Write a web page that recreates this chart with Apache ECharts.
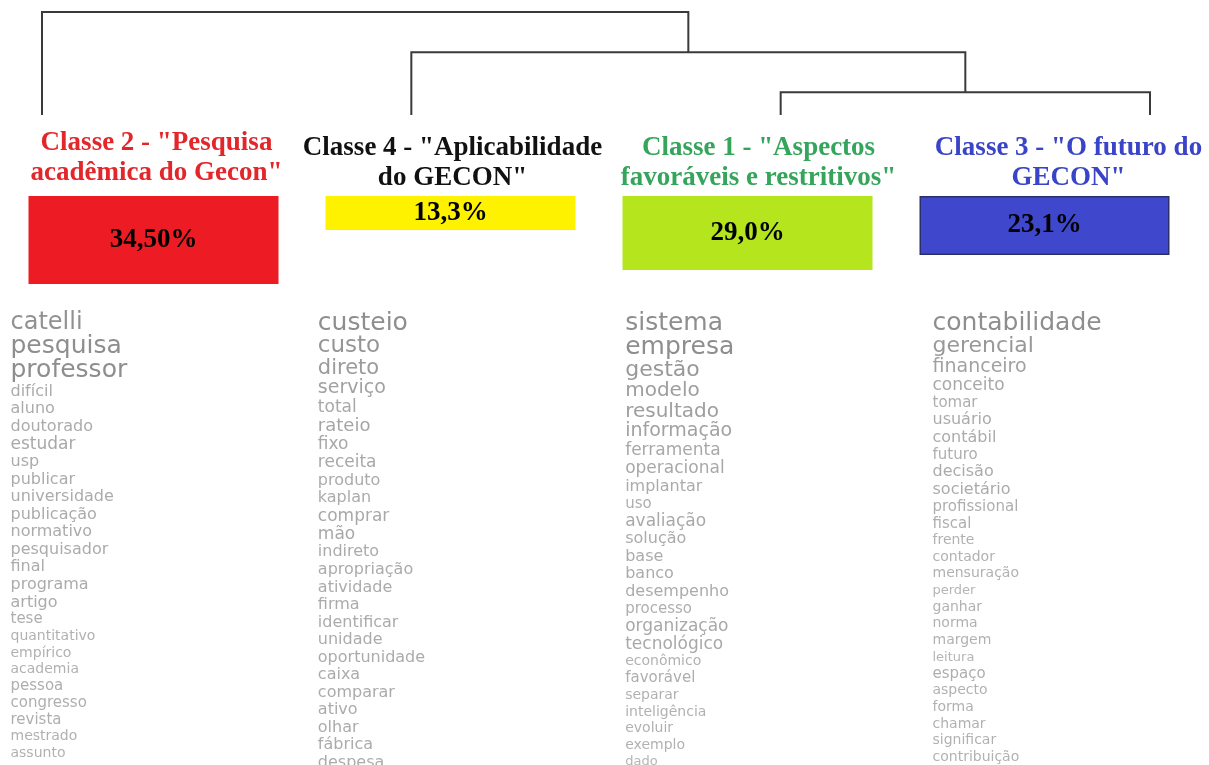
<!DOCTYPE html>
<html>
<head>
<meta charset="utf-8">
<title>Classes GECON</title>
<script src="https://cdn.jsdelivr.net/npm/echarts@6/dist/echarts.min.js"></script>
<style>
    html, body { margin: 0; padding: 0; background: #fff; }
    #chart { width: 1209px; height: 765px; }
</style>
</head>
<body>
<div id="chart"></div>
<script>
// classes in the order of the dendrogram leaves
const classNames = ['Classe 2', 'Classe 4', 'Classe 1', 'Classe 3'];
const classTitles = [
    ['Classe 2 - "Pesquisa', 'acadêmica do Gecon"'],
    ['Classe 4 - "Aplicabilidade', 'do GECON"'],
    ['Classe 1 - "Aspectos', 'favoráveis e restritivos"'],
    ['Classe 3 - "O futuro do', 'GECON"']
];
const classShares = [34.5, 13.3, 29.0, 23.1];
const shareLabels = ['34,50%', '13,3%', '29,0%', '23,1%'];

// linkage rows: [left, right, height], ids >= 4 are merged clusters
const linkage = [[2, 3, 0.22], [1, 4, 0.61], [0, 5, 1.0]];

// words of each class and their weight (rank of association)
const wordsClasse2 = ['catelli', 'pesquisa', 'professor', 'difícil', 'aluno', 'doutorado', 'estudar', 'usp',
    'publicar', 'universidade', 'publicação', 'normativo', 'pesquisador', 'final', 'programa', 'artigo',
    'tese', 'quantitativo', 'empírico', 'academia', 'pessoa', 'congresso', 'revista', 'mestrado', 'assunto'];
const weightsClasse2 = [11, 12, 12, 3, 3, 3, 4, 3, 3, 3, 3, 3, 3, 3, 3, 3, 2, 1, 1, 1, 2, 2, 2, 1, 1];

const wordsClasse4 = ['custeio', 'custo', 'direto', 'serviço', 'total', 'rateio', 'fixo', 'receita',
    'produto', 'kaplan', 'comprar', 'mão', 'indireto', 'apropriação', 'atividade', 'firma', 'identificar',
    'unidade', 'oportunidade', 'caixa', 'comparar', 'ativo', 'olhar', 'fábrica', 'despesa'];
const weightsClasse4 = [12, 10, 8, 6, 4, 5, 4, 4, 3, 3, 4, 4, 3, 3, 3, 3, 3, 3, 3, 3, 3, 3, 3, 3, 3];

const wordsClasse1 = ['sistema', 'empresa', 'gestão', 'modelo', 'resultado', 'informação', 'ferramenta',
    'operacional', 'implantar', 'uso', 'avaliação', 'solução', 'base', 'banco', 'desempenho', 'processo',
    'organização', 'tecnológico', 'econômico', 'favorável', 'separar', 'inteligência', 'evoluir',
    'exemplo', 'dado'];
const weightsClasse1 = [12, 12, 9, 7, 7, 6, 4, 4, 3, 2, 4, 3, 3, 3, 3, 2, 4, 4, 1, 2, 1, 1, 1, 1, 0];

const wordsClasse3 = ['contabilidade', 'gerencial', 'financeiro', 'conceito', 'tomar', 'usuário', 'contábil',
    'futuro', 'decisão', 'societário', 'profissional', 'fiscal', 'frente', 'contador', 'mensuração',
    'perder', 'ganhar', 'norma', 'margem', 'leitura', 'espaço', 'aspecto', 'forma', 'chamar',
    'significar', 'contribuição'];
const weightsClasse3 = [12, 9, 6, 4, 2, 3, 3, 2, 3, 3, 2, 2, 1, 1, 1, 0, 1, 1, 1, 0, 2, 1, 1, 1, 1, 1];

const wordLists = [wordsClasse2, wordsClasse4, wordsClasse1, wordsClasse3];
const weightLists = [weightsClasse2, weightsClasse4, weightsClasse1, weightsClasse3];

const boxColors = ['#ed1c24', '#fff200', '#b5e61d', '#3f48cc'];
const titleColors = ['#e3262a', '#111111', '#35a55c', '#3a44c8'];
const titleShift = [6, 4, 22, 48];

// dendrogram segments
const nodeX = [0, 1, 2, 3];
const nodeH = [0, 0, 0, 0];
linkage.forEach(l => {
    nodeX.push((nodeX[l[0]] + nodeX[l[1]]) / 2);
    nodeH.push(l[2]);
});
const dendroData = linkage.map(l => [nodeX[l[0]], nodeH[l[0]], nodeX[l[1]], nodeH[l[1]], l[2]]);

function fontSizeOf(w) { return 13 + w; }
function colorOf(w) {
    const g = Math.round(162 - w * 4).toString(16);
    return '#' + g + g + g;
}

// word columns, stacked downwards
const wordSeries = wordLists.map((words, k) => {
    const sizes = weightLists[k].map(fontSizeOf);
    let y = 0;
    const data = words.map((w, i) => {
        if (i > 0) y += Math.max(16.7, 6 + 0.36 * (sizes[i - 1] + sizes[i]));
        return {
            name: w,
            value: [k, y],
            label: { fontSize: sizes[i], color: colorOf(weightLists[k][i]) }
        };
    });
    return {
        type: 'scatter',
        xAxisIndex: 2,
        yAxisIndex: 2,
        symbolSize: 1,
        itemStyle: { color: 'rgba(0,0,0,0)' },
        silent: true,
        label: {
            show: true,
            position: 'right',
            distance: 0,
            formatter: '{b}',
            fontFamily: 'DejaVu Sans'
        },
        data: data
    };
});

const rich = { gap: { fontSize: 1, lineHeight: 5 } };
classNames.forEach((c, i) => {
    rich['t' + i] = {
        color: titleColors[i],
        fontFamily: 'Liberation Serif',
        fontWeight: 'bold',
        fontSize: 27,
        lineHeight: 30,
        padding: [0, 0, 0, titleShift[i]]
    };
});

const chart = echarts.init(document.getElementById('chart'));

const option = {
    animation: false,
    backgroundColor: '#fff',
    grid: [
        { left: 42, top: 12, width: 1108, height: 103 },
        { left: 5, top: 196, width: 1188, height: 255 },
        { left: 10, top: 323, width: 922, height: 440 }
    ],
    xAxis: [
        { gridIndex: 0, type: 'value', min: 0, max: 3, show: false },
        {
            gridIndex: 1,
            type: 'category',
            position: 'top',
            data: classNames,
            axisLine: { show: false },
            axisTick: { show: false },
            axisLabel: {
                interval: 0,
                margin: 3,
                formatter: function(value, index) {
                    let s = classTitles[index].map(t => '{t' + index + '|' + t + '}').join('\n');
                    if (index === 0) s += '\n{gap| }';
                    return s;
                },
                rich: rich
            }
        },
        { gridIndex: 2, type: 'value', min: 0, max: 3, show: false }
    ],
    yAxis: [
        { gridIndex: 0, type: 'value', min: 0, max: 1, show: false },
        { gridIndex: 1, type: 'value', min: 0, max: 100, inverse: true, show: false },
        { gridIndex: 2, type: 'value', min: 0, max: 440, inverse: true, show: false }
    ],
    series: [
        {
            type: 'custom',
            xAxisIndex: 0,
            yAxisIndex: 0,
            silent: true,
            encode: { x: [0, 2], y: [1, 3, 4] },
            renderItem: function(params, api) {
                const a = api.coord([api.value(0), api.value(1)]);
                const a2 = api.coord([api.value(0), api.value(4)]);
                const b2 = api.coord([api.value(2), api.value(4)]);
                const b = api.coord([api.value(2), api.value(3)]);
                return {
                    type: 'polyline',
                    shape: { points: [a, a2, b2, b] },
                    style: { fill: null, stroke: '#3a3a3a', lineWidth: 2 }
                };
            },
            data: dendroData
        },
        {
            type: 'bar',
            xAxisIndex: 1,
            yAxisIndex: 1,
            barWidth: 250,
            silent: true,
            data: classShares.map((v, i) => ({
                value: v,
                itemStyle: {
                    color: boxColors[i],
                    borderColor: i === 3 ? '#2a2f6a' : boxColors[i],
                    borderWidth: i === 3 ? 1.5 : 0
                }
            })),
            label: {
                show: true,
                position: 'inside',
                formatter: p => shareLabels[p.dataIndex],
                fontFamily: 'Liberation Serif',
                fontWeight: 'bold',
                fontSize: 27,
                color: '#000'
            }
        }
    ].concat(wordSeries)
};

chart.setOption(option);
</script>
</body>
</html>
